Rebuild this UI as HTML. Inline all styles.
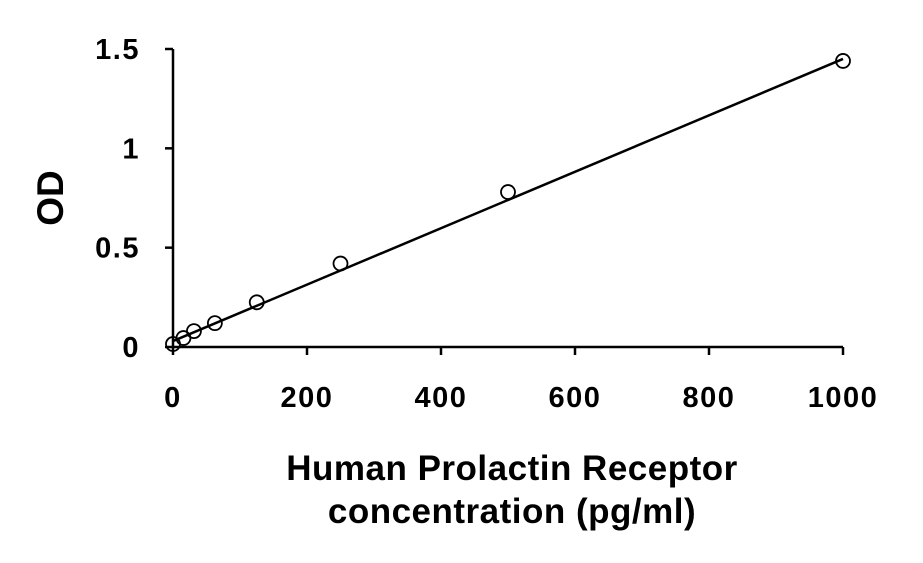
<!DOCTYPE html>
<html><head><meta charset="utf-8"><style>
body{margin:0;background:#fff}
svg text{font-family:"Liberation Sans",Arial,sans-serif;font-weight:bold;fill:#000}
</style></head><body>
<svg width="923" height="558">
<g id="g"></g>
</svg>
<script>
const xTicks=[0,200,400,600,800,1000];
const yTicks=[0,0.5,1,1.5];
const yTickLabels=["0","0.5","1","1.5"];
const concentrations=[0,15.6,31.25,62.5,125,250,500,1000];
const odValues=[0.015,0.045,0.08,0.12,0.225,0.42,0.78,1.44];
const fitSlope=0.00142;
const fitIntercept=0.03;
const X=v=>173+v*(843-173)/1000;
const Y=v=>347-v*(347-49)/1.5;
const g=document.getElementById('g');
const NS='http://www.w3.org/2000/svg';
function mk(t,a){const e=document.createElementNS(NS,t);for(const k in a)e.setAttribute(k,a[k]);g.appendChild(e);return e;}
let e;
e=mk('line',{x1:X(0),y1:Y(0),x2:X(1000),y2:Y(0),stroke:'#000','stroke-width':2.5});


e=mk('line',{x1:X(0),y1:Y(0),x2:X(0),y2:Y(1.5),stroke:'#000','stroke-width':2.5});


xTicks.forEach(v=>{
 e=mk('line',{x1:X(v),y1:Y(0),x2:X(v),y2:Y(0)+8,stroke:'#000','stroke-width':2.5});
 
 
 e=mk('text',{x:X(v),y:407,'text-anchor':'middle','font-size':29,'letter-spacing':1.5});
 e.textContent=v;
 
 
});
yTicks.forEach((v,i)=>{
 e=mk('line',{x1:X(0)-8,y1:Y(v),x2:X(0),y2:Y(v),stroke:'#000','stroke-width':2.5});
 
 
 e=mk('text',{x:140,y:Y(v)+10,'text-anchor':'end','font-size':29,'letter-spacing':1.5});
 e.textContent=yTickLabels[i];
 
 
});
e=mk('line',{x1:X(0),y1:Y(fitIntercept),x2:X(1000),y2:Y(fitIntercept+fitSlope*1000),stroke:'#000','stroke-width':2.5});


concentrations.forEach((c,i)=>{
 e=mk('circle',{cx:X(c),cy:Y(odValues[i]),r:7,fill:'#fff','fill-opacity':0,stroke:'#000','stroke-width':1.8});
 
 
});
e=mk('text',{x:512,y:480,'text-anchor':'middle','font-size':35,'letter-spacing':0.5});
e.textContent='Human Prolactin Receptor';


e=mk('text',{x:512,y:523,'text-anchor':'middle','font-size':35,'letter-spacing':0.5});
e.textContent='concentration (pg/ml)';


e=mk('text',{x:0,y:0,'text-anchor':'middle','font-size':37,transform:'translate(63,198) rotate(-90)'});
e.textContent='OD';


</script>
</body></html>
